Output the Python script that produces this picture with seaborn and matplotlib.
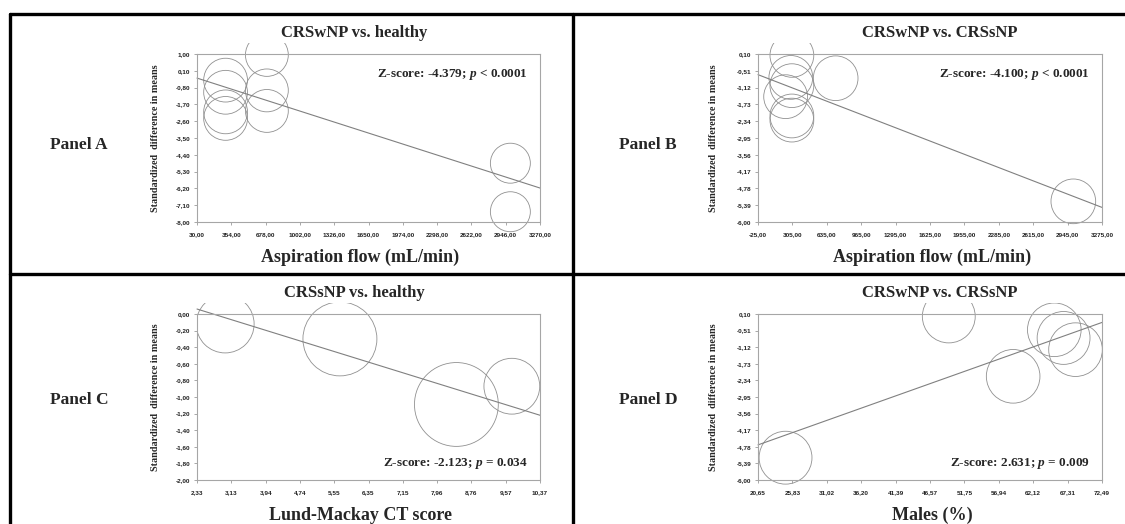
import matplotlib
matplotlib.use("Agg")
import matplotlib.pyplot as plt
from matplotlib.lines import Line2D
from matplotlib.patches import Rectangle
import seaborn as sns
import pandas as pd

# Panel A: CRSwNP vs. healthy, aspiration flow
flow_a = [300, 300, 300, 300, 690, 690, 690, 2990, 2990]
smd_a = [-0.40, -1.05, -2.10, -2.45, 0.95, -0.95, -2.05, -4.85, -7.45]
wt_a = [48, 48, 48, 48, 46, 46, 46, 40, 40]
fit_a = [-0.29, -6.18]
xt_a = [30, 354, 678, 1002, 1326, 1650, 1974, 2298, 2622, 2946, 3270]
yt_a = [1.00, 0.10, -0.80, -1.70, -2.60, -3.50, -4.40, -5.30, -6.20, -7.10, -8.00]

# Panel B: CRSwNP vs. CRSsNP, aspiration flow
flow_b = [300, 290, 300, 240, 300, 300, 720, 3000]
smd_b = [0.05, -0.75, -1.05, -1.45, -2.15, -2.30, -0.78, -5.25]
wt_b = [48, 48, 48, 48, 48, 48, 50, 50]
fit_b = [-0.65, -5.47]
xt_b = [-25, 305, 635, 965, 1295, 1625, 1955, 2285, 2615, 2945, 3275]
yt_b = [0.10, -0.51, -1.12, -1.73, -2.34, -2.95, -3.56, -4.17, -4.78, -5.39, -6.00]

# Panel C: CRSsNP vs. healthy, Lund-Mackay CT score
lm_c = [2.99, 5.68, 8.41, 9.71]
smd_c = [-0.12, -0.30, -1.09, -0.87]
wt_c = [84, 137, 176, 78]
fit_c = [0.06, -1.22]
xt_c = [2.33, 3.13, 3.94, 4.74, 5.55, 6.35, 7.15, 7.96, 8.76, 9.57, 10.37]
yt_c = [0.00, -0.20, -0.40, -0.60, -0.80, -1.00, -1.20, -1.40, -1.60, -1.80, -2.00]

# Panel D: CRSwNP vs. CRSsNP, males (%)
males_d = [24.8, 49.4, 59.1, 65.3, 66.7, 68.5]
smd_d = [-5.18, 0.01, -2.19, -0.48, -0.78, -1.21]
wt_d = [70, 70, 72, 72, 70, 72]
fit_d = [-4.71, -0.21]
xt_d = [20.65, 25.83, 31.02, 36.20, 41.39, 46.57, 51.75, 56.94, 62.12, 67.31, 72.49]
yt_d = yt_b

sns.set_style("white")
plt.rcParams["font.family"] = ["Liberation Serif", "DejaVu Serif"]
plt.rcParams["mathtext.fontset"] = "custom"
plt.rcParams["mathtext.bfit"] = "Liberation Serif:italic:bold"
plt.rcParams["mathtext.it"] = "Liberation Serif:italic:bold"

W, H = 1125, 524
fig = plt.figure(figsize=(W / 100, H / 100), dpi=100)


def fx(px):
    return px / W


def fy(py):
    return 1 - py / H


def fmt(v):
    return f"{v:.2f}".replace(".", ",")


def panel(box, x, y, w, fit, xt, yt, title, xlabel, note, note_top, ylab_x, dx):
    l, r, t, b = box
    ax = fig.add_axes([fx(l), fy(b), fx(r - l), (b - t) / H])
    df = pd.DataFrame({"x": x, "y": y, "w": w})
    sns.scatterplot(data=df, x="x", y="y", s=(df["w"] * 20.7).to_numpy(),
                    color="none", edgecolor="#909090", linewidth=0.6,
                    legend=False, ax=ax)
    # chart plot area: bubbles cut a little above the axes box
    clip = Rectangle((0, -0.3), 1.0, 1.3 + 11 / (b - t),
                     transform=ax.transAxes, fill=False, visible=False)
    ax.add_patch(clip)
    ax.collections[0].set_clip_path(clip)
    ax.plot([xt[0], xt[-1]], fit, color="#808080", lw=0.8, clip_on=False)
    ax.set_xlim(xt[0], xt[-1])
    ax.set_ylim(yt[-1], yt[0])
    ax.set_xticks(xt)
    ax.set_xticklabels([fmt(v) for v in xt], fontsize=4.6, fontweight="bold",
                       family="Liberation Sans", color="#222222")
    ax.set_yticks(yt)
    ax.set_yticklabels([fmt(v) for v in yt], fontsize=4.6, fontweight="bold",
                       family="Liberation Sans", color="#222222")
    ax.tick_params(axis="both", length=2.5, width=0.6, color="#9a9a9a",
                   direction="out", bottom=True, left=True)
    ax.tick_params(axis="x", pad=4.5)
    ax.tick_params(axis="y", pad=2.5)
    ax.set_xlabel("")
    ax.set_ylabel("")
    for s in ax.spines.values():
        s.set_color("#a6a6a6")
        s.set_linewidth(0.8)
    cx = (l + r) / 2
    fig.text(fx(cx + dx[0]), fy(t - 21), title, ha="center", va="center",
             fontsize=12, fontweight="bold")
    fig.text(fx(cx + dx[1]), fy(b + 35), xlabel, ha="center", va="center",
             fontsize=13, fontweight="bold")
    fig.text(fx(ylab_x), fy((t + b) / 2), "Standardized  difference in means",
             rotation=90, ha="center", va="center", fontsize=7.3,
             fontweight="bold")
    ny = 0.875 if note_top else 0.10
    ax.text(0.965, ny, note, transform=ax.transAxes, ha="right",
            va="center", fontsize=9.5, fontweight="bold")
    return ax


panel((197, 540, 54, 222), flow_a, smd_a, wt_a, fit_a, xt_a, yt_a,
      "CRSwNP vs. healthy", "Aspiration flow (mL/min)",
      r"Z-score: -4.379; $\mathbfit{p}$ < 0.0001", True, 155, (-14, -8))
panel((758, 1102, 54, 222), flow_b, smd_b, wt_b, fit_b, xt_b, yt_b,
      "CRSwNP vs. CRSsNP", "Aspiration flow (mL/min)",
      r"Z-score: -4.100; $\mathbfit{p}$ < 0.0001", True, 714, (10, 2))
panel((197, 540, 314, 480), lm_c, smd_c, wt_c, fit_c, xt_c, yt_c,
      "CRSsNP vs. healthy", "Lund-Mackay CT score",
      r"Z-score: -2.123; $\mathbfit{p}$ = 0.034", False, 155, (-14, -8))
panel((758, 1102, 314, 480), males_d, smd_d, wt_d, fit_d, xt_d, yt_d,
      "CRSwNP vs. CRSsNP", "Males (%)",
      r"Z-score: 2.631; $\mathbfit{p}$ = 0.009", False, 714, (10, 2))

# panel labels
for lab, px, py in [("Panel A", 79, 145), ("Panel B", 648, 145),
                    ("Panel C", 79, 400), ("Panel D", 648, 400)]:
    fig.text(fx(px), fy(py), lab, ha="center", va="center", fontsize=12.5,
             fontweight="bold")

# grid frame
for xs, ys in [([10, W], [14, 14]), ([10, 10], [14, H]),
               ([573, 573], [14, H]), ([10, W], [274, 274])]:
    fig.add_artist(Line2D([fx(v) for v in xs], [fy(v) for v in ys],
                          color="black", lw=2.4, transform=fig.transFigure))

fig.savefig("out.png", dpi=100)
